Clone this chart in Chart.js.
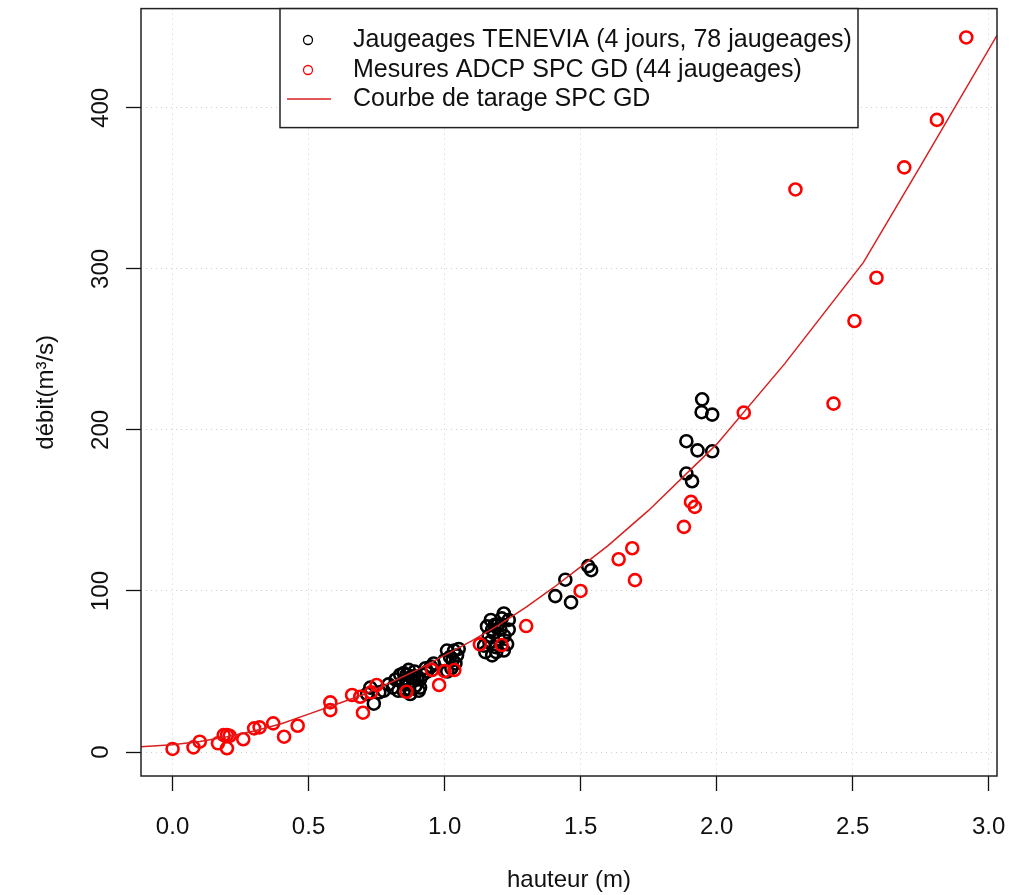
<!DOCTYPE html>
<html>
<head>
<meta charset="utf-8">
<script src="https://cdn.jsdelivr.net/npm/chart.js@4.4.1/dist/chart.umd.min.js"></script>
<style>
  body { margin: 0; background: #fff; }
  canvas { display: block; }
</style>
</head>
<body>
<canvas id="graphique" width="1010" height="895"></canvas>
<script>
// Jaugeages TENEVIA (points noirs)
const hauteurTenevia = [
    0.715, 0.727, 0.74, 0.76, 0.776, 0.794, 0.81, 0.82, 0.83, 0.837, 0.845, 0.85, 0.85, 0.86, 0.868, 0.87, 0.874,
    0.88, 0.885, 0.89, 0.893, 0.90, 0.905, 0.91, 0.91, 0.92, 0.93, 0.936, 0.95, 0.96, 0.87, 0.86, 0.89,
    1.0, 1.009, 1.02, 1.025, 1.03, 1.035, 1.04, 1.046, 1.052, 1.01,
    1.145, 1.15, 1.156, 1.162, 1.165, 1.17, 1.175, 1.18, 1.185, 1.19, 1.195, 1.20, 1.205, 1.21, 1.218, 1.218,
    1.22, 1.23, 1.236, 1.236, 1.19, 1.175,
    1.407, 1.444, 1.465, 1.528, 1.539,
    1.889, 1.947, 1.945, 1.984, 1.93, 1.984, 1.889, 1.91
];
const debitTenevia = [
    36, 40, 30, 37, 38, 42, 40, 45, 38, 48, 43, 38, 49, 45, 51, 42, 36,
    47, 44, 50, 41, 46, 38, 45, 40, 48, 52, 50, 53, 55, 39, 48, 47,
    57, 63, 59, 52, 57, 63, 55, 60, 64, 50,
    66, 62, 78, 72, 68, 82, 60, 74, 79, 65, 79, 70, 76, 83, 86, 63,
    72, 67, 82, 76, 62, 76,
    96.8, 107, 92.9, 115.4, 112.9,
    193, 219, 211, 209.5, 187.3, 186.7, 172.9, 168.1
];

// Mesures ADCP SPC GD (points rouges)
const hauteurAdcp = [
    0.0, 0.077, 0.10, 0.167, 0.188, 0.20, 0.20, 0.21, 0.26, 0.30, 0.32, 0.37, 0.41, 0.46,
    0.58, 0.58, 0.66, 0.69, 0.70, 0.73, 0.75,
    0.86, 0.954, 0.98, 1.0, 1.036,
    1.13, 1.21, 1.30, 1.50,
    1.64, 1.69, 1.70, 1.88, 1.906, 1.92, 2.10,
    2.29, 2.43, 2.507, 2.588, 2.69, 2.81, 2.918
];
const debitAdcp = [
    1.9, 2.9, 6.4, 5.4, 10.5, 10.5, 2.3, 10.0, 7.9, 14.7, 15.3, 17.8, 9.5, 16.3,
    30.8, 26, 35.4, 34.3, 24.4, 37, 41.6,
    37.4, 50.9, 41.6, 50.2, 50.9,
    66.8, 66.4, 78.2, 100,
    119.7, 126.5, 106.7, 139.8, 155.3, 152.2, 210.7,
    349.3, 216.3, 267.6, 294.5, 363, 392.5, 443.7
];

// Courbe de tarage SPC GD
const hauteurCourbe = [-0.116, 0.0, 0.1, 0.2, 0.3, 0.4, 0.5, 0.6, 0.7, 0.8, 0.9, 1.0, 1.1, 1.2, 1.3, 1.4, 1.5, 1.6, 1.75, 2.0, 2.25, 2.54, 2.75, 3.031];
const debitCourbe   = [3.3, 4.5, 6.5, 9.5, 13, 17.5, 23.5, 29.5, 35.5, 43, 51, 60, 69, 79, 90, 102, 115, 128, 150, 191, 241, 304, 364, 445];

const xTicks = [0, 0.5, 1, 1.5, 2, 2.5, 3];
const yTicks = [0, 100, 200, 300, 400];

const legendeTextes = [
    'Jaugeages TENEVIA (4 jours, 78 jaugeages)',
    'Mesures ADCP SPC GD (44 jaugeages)',
    'Courbe de tarage SPC GD'
];

const police = "'Liberation Sans', Arial, sans-serif";

function paires(xs, ys) {
    return xs.map((x, i) => ({ x: x, y: ys[i] }));
}

// Cadre, libellés de l'axe Y (verticaux, façon R) et légende
const pluginR = {
    id: 'pluginR',
    afterDatasetsDraw(chart) {
        const ctx = chart.ctx;
        const a = chart.chartArea;
        const y = chart.scales.y;

        ctx.save();
        ctx.strokeStyle = '#222';
        ctx.lineWidth = 1.5;
        ctx.strokeRect(a.left, a.top, a.right - a.left, a.bottom - a.top);

        // libellés Y tournés
        ctx.fillStyle = '#111';
        ctx.font = '24px ' + police;
        ctx.textAlign = 'center';
        ctx.textBaseline = 'middle';
        yTicks.forEach(v => {
            ctx.save();
            ctx.translate(101, y.getPixelForValue(v));
            ctx.rotate(-Math.PI / 2);
            ctx.fillText(String(v), 0, 0);
            ctx.restore();
        });

        // légende
        const bx = 280, by = a.top, bw = 578, bh = 119;
        ctx.fillStyle = '#fff';
        ctx.fillRect(bx, by, bw, bh);
        ctx.strokeStyle = '#222';
        ctx.lineWidth = 1.5;
        ctx.strokeRect(bx, by, bw, bh);

        const lignes = [40, 70, 99];
        ctx.font = '25px ' + police;
        ctx.textAlign = 'left';
        ctx.fillStyle = '#111';
        legendeTextes.forEach((t, i) => {
            ctx.fillText(t, 353, lignes[i]);
        });

        ctx.lineWidth = 1.3;
        ctx.strokeStyle = '#000';
        ctx.beginPath();
        ctx.arc(308, lignes[0], 4.5, 0, Math.PI * 2);
        ctx.stroke();
        ctx.strokeStyle = 'red';
        ctx.beginPath();
        ctx.arc(308, lignes[1], 4.5, 0, Math.PI * 2);
        ctx.stroke();
        ctx.strokeStyle = '#d92020';
        ctx.beginPath();
        ctx.moveTo(287, lignes[2]);
        ctx.lineTo(331, lignes[2]);
        ctx.stroke();
        ctx.restore();
    }
};

const grilleCommune = {
    color: '#cfcfcf',
    lineWidth: 1,
    tickColor: '#111',
    tickLength: 15,
    tickWidth: 1.3
};

new Chart(document.getElementById('graphique'), {
    type: 'scatter',
    data: {
        datasets: [
            {
                label: legendeTextes[2],
                data: paires(hauteurCourbe, debitCourbe),
                showLine: true,
                borderColor: '#d92020',
                borderWidth: 1.5,
                pointRadius: 0,
                tension: 0,
                order: 0
            },
            {
                label: legendeTextes[1],
                data: paires(hauteurAdcp, debitAdcp),
                borderColor: 'red',
                backgroundColor: 'transparent',
                borderWidth: 2.6,
                pointRadius: 6,
                order: 1
            },
            {
                label: legendeTextes[0],
                data: paires(hauteurTenevia, debitTenevia),
                borderColor: '#000',
                backgroundColor: 'transparent',
                borderWidth: 2.6,
                pointRadius: 6,
                order: 2
            }
        ]
    },
    options: {
        responsive: false,
        animation: false,
        layout: { padding: { left: 0, right: 13, top: 8, bottom: 0 } },
        plugins: {
            legend: { display: false },
            tooltip: { enabled: false }
        },
        scales: {
            x: {
                type: 'linear',
                min: -0.116,
                max: 3.031,
                afterBuildTicks: s => { s.ticks = xTicks.map(v => ({ value: v })); },
                afterFit: s => { s.height = 119; s.paddingLeft = 0; s.paddingRight = 0; },
                grid: grilleCommune,
                border: { display: false, dash: [1, 4] },
                ticks: {
                    padding: 22,
                    color: '#111',
                    font: { family: police, size: 24 },
                    callback: v => Number(v).toFixed(1),
                    maxRotation: 0
                },
                title: {
                    display: true,
                    text: 'hauteur (m)',
                    color: '#111',
                    font: { family: police, size: 24 },
                    padding: { top: 0, bottom: 0 }
                }
            },
            y: {
                type: 'linear',
                min: -14.9,
                max: 461.6,
                afterBuildTicks: s => { s.ticks = yTicks.map(v => ({ value: v })); },
                afterFit: s => { s.width = 141; s.paddingTop = 0; s.paddingBottom = 0; },
                grid: grilleCommune,
                border: { display: false, dash: [1, 4] },
                ticks: { display: false },
                title: {
                    display: true,
                    text: 'débit(m³/s)',
                    color: '#111',
                    font: { family: police, size: 24 },
                    padding: { top: 32, bottom: 0 }
                }
            }
        }
    },
    plugins: [pluginR]
});
</script>
</body>
</html>
